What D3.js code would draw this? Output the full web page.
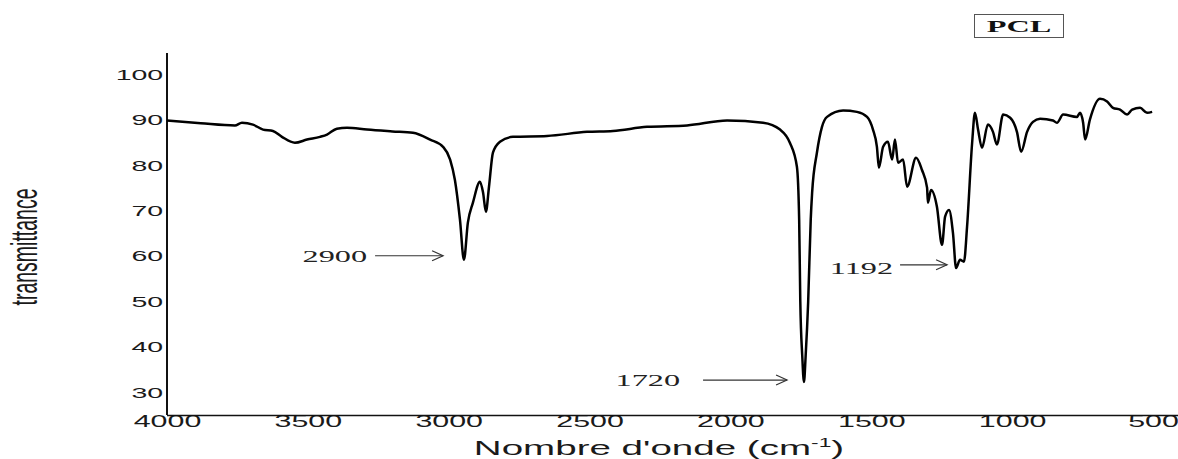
<!DOCTYPE html>
<html>
<head>
<meta charset="utf-8">
<script src="https://cdn.jsdelivr.net/npm/d3@7"></script>
<style>
  body { margin: 0; background: #fff; }
  svg { display: block; }
</style>
</head>
<body>
<div id="vis"></div>
<script>
// FTIR spectrum of PCL

const wavenumber = [4000, 3880, 3759, 3734, 3695, 3659, 3624, 3592, 3546, 3503, 3457, 3432, 3397, 3361, 3290, 3200,
  3127, 3066, 3020, 2995, 2978, 2960, 2946, 2932, 2914, 2889, 2878, 2868, 2857, 2843, 2818, 2772, 2651, 2509,
  2417, 2296, 2154, 2012, 1884, 1824, 1789, 1764, 1756, 1752, 1745, 1739, 1733, 1724, 1715, 1710, 1693, 1675,
  1657, 1600, 1551, 1515, 1494, 1480, 1473, 1458, 1441, 1426, 1416, 1405, 1387, 1373, 1341, 1320, 1302, 1299,
  1288, 1267, 1249, 1238, 1224, 1210, 1199, 1185, 1171, 1160, 1142, 1132, 1121, 1107, 1086, 1068, 1054, 1032,
  1007, 983, 968, 947, 926, 901, 855, 841, 819, 770, 759, 748, 741, 724, 688, 663, 642, 617, 592, 574, 546, 521, 503]

const transmittance = [89.9, 89.3, 88.8, 89.4, 89.0, 87.9, 87.6, 86.3, 85.0, 85.7, 86.3, 86.8, 88.1, 88.3, 87.9, 87.5,
  87.2, 85.7, 84.1, 81.3, 76.8, 68.0, 59.2, 67.4, 71.8, 76.4, 74.0, 69.8, 75.3, 82.8, 85.2, 86.3, 86.5, 87.4,
  87.6, 88.5, 88.8, 89.9, 89.4, 87.9, 85.0, 79.7, 68.0, 50.0, 38.0, 32.3, 38.0, 50.0, 68.0, 74.0, 82.8, 88.5,
  90.7, 92.1, 91.8, 90.7, 87.9, 84.1, 79.5, 84.1, 85.2, 81.3, 85.7, 80.6, 81.3, 75.3, 81.7, 79.0, 75.1, 71.8,
  74.6, 70.9, 62.5, 68.7, 70.2, 65.1, 57.4, 59.2, 58.8, 66.5, 85.0, 91.6, 87.9, 83.9, 89.0, 87.4, 84.6, 91.2,
  90.5, 87.4, 83.0, 87.4, 89.6, 90.3, 89.9, 89.4, 91.2, 90.7, 91.6, 89.4, 85.7, 90.1, 94.7, 94.1, 92.7, 92.3,
  91.2, 92.3, 92.7, 91.6, 91.8]

const xTicks = [4000, 3500, 3000, 2500, 2000, 1500, 1000, 500]
const yTicks = [30, 40, 50, 60, 70, 80, 90, 100]

// peak annotations: label, and where the arrow tip points (wavenumber, transmittance)
const peakLabels = ['2900', '1720', '1192']
const peakTipWave = [3020, 1799, 1231]
const peakTipT = [60.1, 32.7, 58.1]

const sampleName = 'PCL'

// the original picture is stretched sideways, so all text gets the same stretch
const SX = 1.9
const sans = "'Liberation Sans', Arial, sans-serif"
const serif = "'Liberation Serif', 'DejaVu Serif', serif"

const W = 1178, H = 459
const margin = {left: 167, top: 53, right: 25, bottom: 44}

const x = d3.scaleLinear([4000, 500], [margin.left, 1153])
const y = d3.scaleLinear([25, 105], [H - margin.bottom, margin.top - 1])

const svg = d3.select('#vis').append('svg')
    .attr('width', W)
    .attr('height', H)

const data = wavenumber.map((w, i) => ({w: w, t: transmittance[i]}))

// y axis
let yAxis = svg.append('g')
    .attr('transform', `translate(${margin.left},0)`)
    .call(d3.axisLeft(y).tickValues(yTicks).tickSize(0).tickPadding(2).tickSizeOuter(0))
yAxis.select('.domain').attr('stroke', '#111').attr('stroke-width', 2)
    .attr('d', `M0,${H - margin.bottom}V${margin.top}`)
yAxis.selectAll('text')
    .attr('font-family', sans)
    .attr('font-size', 15)
    .attr('fill', '#1a1a1a')
    .attr('transform', `scale(${SX},1)`)

// x axis
let xAxis = svg.append('g')
    .attr('transform', `translate(0,${H - margin.bottom})`)
    .call(d3.axisBottom(x).tickValues(xTicks).tickFormat(d3.format('d')).tickSize(0).tickPadding(1).tickSizeOuter(0))
xAxis.select('.domain').remove()
xAxis.append('line')
    .attr('x1', margin.left).attr('x2', W)
    .attr('y1', 0.5).attr('y2', 0.5)
    .attr('stroke', '#111').attr('stroke-width', 1.6)
xAxis.selectAll('text')
    .attr('font-family', sans)
    .attr('font-size', 16)
    .attr('fill', '#1a1a1a')
    .attr('transform', `scale(${SX},1)`)

// spectrum
let line = d3.line()
    .x(d => x(d.w))
    .y(d => y(d.t))
    .curve(d3.curveMonotoneX)

svg.append('path')
    .datum(data)
    .attr('d', line)
    .attr('fill', 'none')
    .attr('stroke', '#000')
    .attr('stroke-width', 2.5)
    .attr('stroke-linejoin', 'round')

// axis titles
svg.append('text')
    .attr('transform', `translate(37,247) rotate(-90) scale(1,${SX})`)
    .attr('text-anchor', 'middle')
    .attr('font-family', sans)
    .attr('font-size', 19.5)
    .attr('fill', '#1a1a1a')
    .text('transmittance')

let xTitle = svg.append('text')
    .attr('transform', `translate(659,455) scale(${SX},1)`)
    .attr('text-anchor', 'middle')
    .attr('font-family', sans)
    .attr('font-size', 20.3)
    .attr('fill', '#1a1a1a')
xTitle.append('tspan').text("Nombre d'onde (cm")
xTitle.append('tspan').text('-1').attr('font-size', 12).attr('dy', -8)
xTitle.append('tspan').text(')').attr('dy', 8)

// peak arrows
const arrowLen = [68, 84, 47]
const labelGap = [8, 23, 7]
const labelDy = [1, 0, 4]

peakLabels.forEach((lab, i) => {
    let tx = x(peakTipWave[i]), ty = y(peakTipT[i])
    let g = svg.append('g').attr('stroke', '#333').attr('stroke-width', 1.2).attr('fill', 'none')
    g.append('line')
        .attr('x1', tx - arrowLen[i]).attr('x2', tx)
        .attr('y1', ty).attr('y2', ty)
    g.append('path')
        .attr('d', `M${tx - 11},${ty - 5}L${tx},${ty}L${tx - 11},${ty + 5}`)

    svg.append('text')
        .attr('transform', `translate(${tx - arrowLen[i] - labelGap[i]},${ty + labelDy[i]}) scale(${SX},1)`)
        .attr('text-anchor', 'end')
        .attr('dominant-baseline', 'central')
        .style('font-family', serif)
        .attr('font-size', 17)
        .attr('fill', '#222')
        .text(lab)
})

// sample name box
svg.append('rect')
    .attr('x', 974.5).attr('y', 14.5)
    .attr('width', 89).attr('height', 23)
    .attr('fill', 'none')
    .attr('stroke', '#555')
    .attr('stroke-width', 1)

svg.append('text')
    .attr('transform', `translate(1019,26) scale(${SX},1)`)
    .attr('text-anchor', 'middle')
    .attr('dominant-baseline', 'central')
    .style('font-family', serif)
    .attr('font-weight', 'bold')
    .attr('font-size', 17)
    .attr('fill', '#111')
    .text(sampleName)
</script>
</body>
</html>
